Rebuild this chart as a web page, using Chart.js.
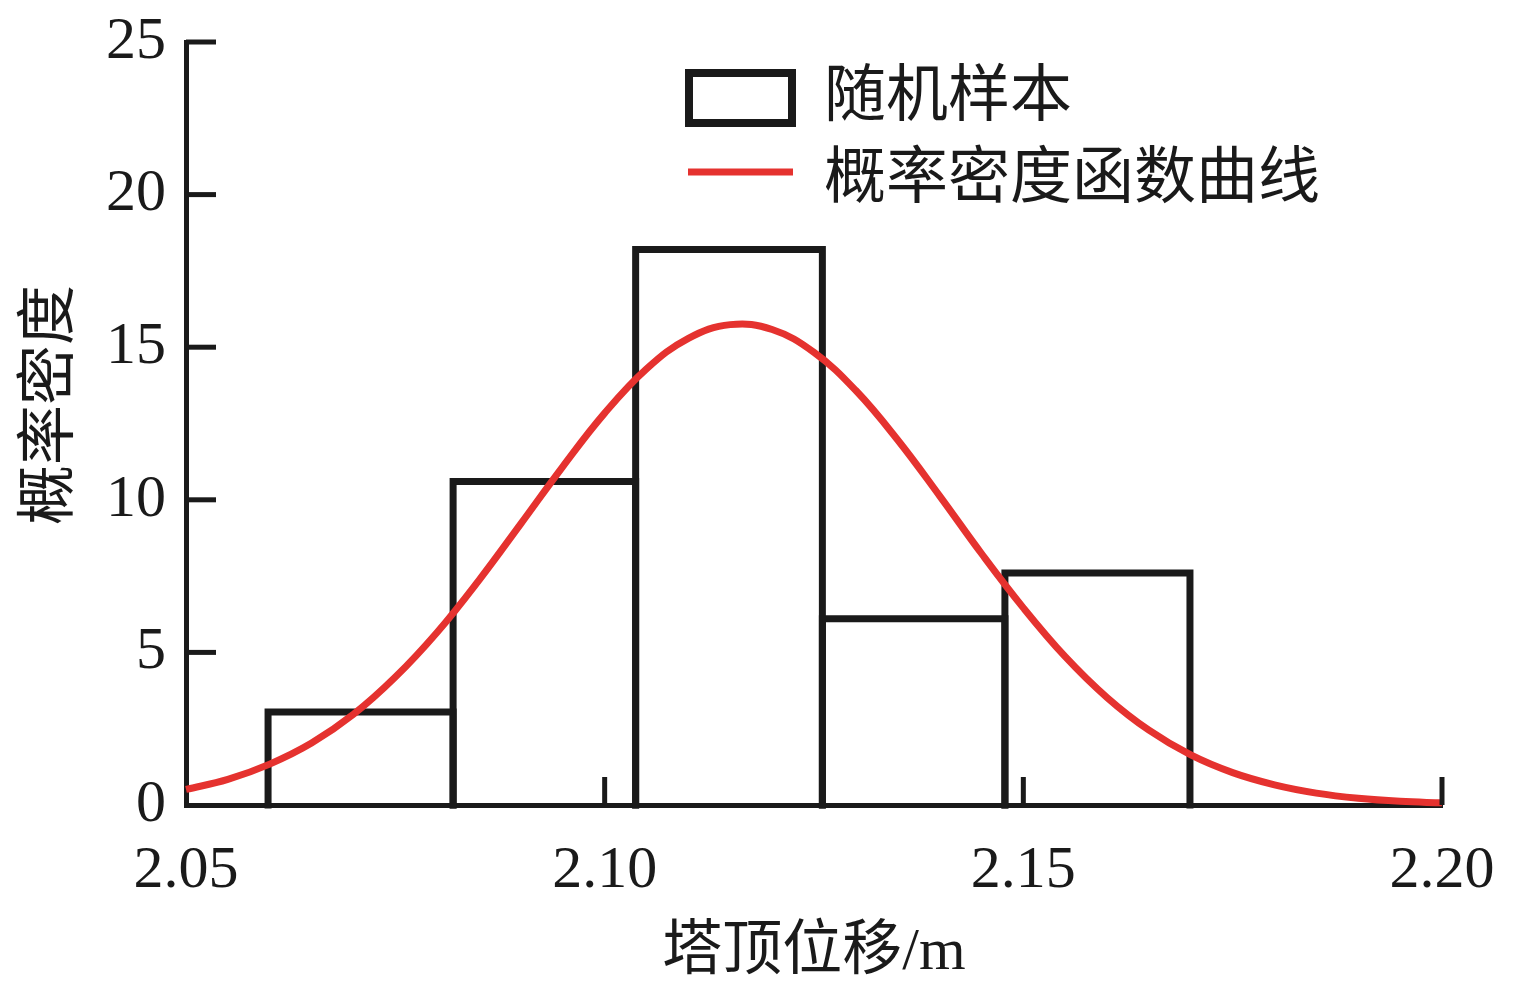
<!DOCTYPE html>
<html>
<head>
<meta charset="utf-8">
<script src="https://cdn.jsdelivr.net/npm/chart.js@4.4.1/dist/chart.umd.min.js"></script>
<style>
html,body{margin:0;padding:0;background:#fff;}
#wrap{width:1527px;height:995px;}
</style>
</head>
<body>
<div id="wrap"><canvas id="c" width="1527" height="995"></canvas></div>
<script>
// ---- data ----
const binEdges = [2.0598, 2.0819, 2.1037, 2.1260, 2.1478, 2.1699];
const binHeights = [3.05, 10.6, 18.2, 6.1, 7.6];
const pdfX = [2.050,2.055,2.060,2.065,2.070,2.075,2.080,2.085,2.090,2.095,2.100,2.105,2.110,2.115,2.120,2.125,2.130,2.135,2.140,2.145,2.150,2.155,2.160,2.165,2.170,2.175,2.180,2.185,2.190,2.195,2.200];
const pdfY = [0.51,0.84,1.34,2.03,2.97,4.19,5.66,7.37,9.22,11.09,12.84,14.29,15.29,15.74,15.58,14.83,13.58,11.96,10.13,8.24,6.46,4.86,3.52,2.45,1.64,1.06,0.66,0.39,0.22,0.12,0.07];
const xTicks = [2.05, 2.10, 2.15, 2.20];
const yTicks = [0, 5, 10, 15, 20, 25];
const legendLabels = ['随机样本', '概率密度函数曲线'];
const xTitle = '塔顶位移/m';
const yTitle = '概率密度';

const INK = '#1a1a1a';
const RED = '#e5322f';
const serif = "'Liberation Serif','Times New Roman',serif";
const cjk = "'Liberation Serif','Noto Sans CJK SC',sans-serif";

// histogram bars as closed outlines (one dataset per bin)
const barSets = binHeights.map((h, i) => ({
  type: 'line',
  data: [
    {x: binEdges[i], y: 0}, {x: binEdges[i], y: h},
    {x: binEdges[i+1], y: h}, {x: binEdges[i+1], y: 0}
  ],
  borderColor: INK, borderWidth: 7, pointRadius: 0, tension: 0,
  borderJoinStyle: 'miter', borderCapStyle: 'square', fill: false, order: 2, clip: false
}));
const curveSet = {
  type: 'line',
  data: pdfX.map((x, i) => ({x, y: pdfY[i]})),
  borderColor: RED, borderWidth: 7, pointRadius: 0, tension: 0.4,
  fill: false, order: 0, clip: false
};

const decor = {
  id: 'decor',
  afterDatasetsDraw(chart) {
    const ctx = chart.ctx, xs = chart.scales.x, ys = chart.scales.y;
    const a = chart.chartArea;
    ctx.save();
    ctx.strokeStyle = INK; ctx.lineWidth = 5; ctx.lineCap = 'butt';
    // inward ticks
    yTicks.forEach(v => { if (v === 0) return;
      const y = ys.getPixelForValue(v);
      ctx.beginPath(); ctx.moveTo(a.left, y); ctx.lineTo(a.left + 30, y); ctx.stroke(); });
    xTicks.forEach(v => { if (v === xTicks[0]) return;
      const x = xs.getPixelForValue(v);
      ctx.beginPath(); ctx.moveTo(x, a.bottom); ctx.lineTo(x, a.bottom - 28); ctx.stroke(); });
    // legend
    ctx.lineWidth = 8; ctx.strokeStyle = INK;
    ctx.strokeRect(689, 73, 103, 50);
    ctx.strokeStyle = RED; ctx.lineWidth = 7;
    ctx.beginPath(); ctx.moveTo(688, 172); ctx.lineTo(793, 172); ctx.stroke();
    ctx.fillStyle = INK; ctx.font = "62px 'Noto Sans CJK SC',sans-serif";
    ctx.textBaseline = 'middle'; ctx.textAlign = 'left';
    ctx.fillText(legendLabels[0], 824, 92);
    ctx.fillText(legendLabels[1], 824, 174);
    // y axis title
    ctx.save();
    ctx.translate(52, 405); ctx.rotate(-Math.PI / 2);
    ctx.textAlign = 'center'; ctx.textBaseline = 'middle';
    ctx.font = "60px " + cjk;
    ctx.fillText(yTitle, 0, 0);
    ctx.restore();
    ctx.restore();
  }
};

new Chart(document.getElementById('c'), {
  type: 'line',
  data: { datasets: [curveSet, ...barSets] },
  options: {
    responsive: false, animation: false, devicePixelRatio: 1,
    layout: { padding: { top: 42, right: 85, left: 0, bottom: 0 } },
    plugins: { legend: { display: false }, tooltip: { enabled: false } },
    scales: {
      x: {
        type: 'linear', min: 2.05, max: 2.20, offset: false,
        afterBuildTicks: s => { s.ticks = xTicks.map(v => ({value: v})); },
        afterFit: s => { s.height = 190; },
        grid: { display: false, drawTicks: false },
        border: { display: true, color: INK, width: 5 },
        ticks: { color: INK, font: { family: serif, size: 60 }, padding: 30, maxRotation: 0,
                 callback: v => Number(v).toFixed(2) },
        title: { display: true, text: xTitle, color: INK, font: { family: cjk, size: 60, lineHeight: 1.2 },
                 padding: { top: 0, bottom: 6 } }
      },
      y: {
        type: 'linear', min: 0, max: 25,
        afterBuildTicks: s => { s.ticks = yTicks.map(v => ({value: v})); },
        afterFit: s => { s.width = 186; s.paddingTop = 0; s.paddingBottom = 0; },
        grid: { display: false, drawTicks: false },
        border: { display: true, color: INK, width: 5 },
        ticks: { color: INK, font: { family: serif, size: 60 }, padding: 20 },
        title: { display: false }
      }
    }
  },
  plugins: [decor]
});
</script>
</body>
</html>
